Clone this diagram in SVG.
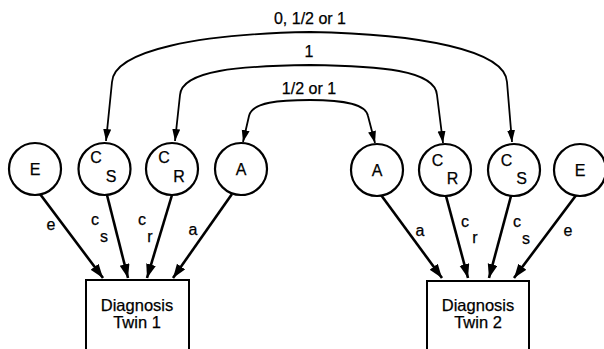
<svg xmlns="http://www.w3.org/2000/svg" width="604" height="349" viewBox="0 0 604 349">
<style>
text{font-family:"Liberation Sans",Arial,sans-serif;fill:#000;stroke:#000;stroke-width:0.25}
.node circle{fill:#fff;stroke:#000;stroke-width:2.2}
.node text{font-size:16px;text-anchor:middle}
.box rect{fill:#fff;stroke:#000;stroke-width:2}
.box text{font-size:16.5px;text-anchor:middle}
.edge{fill:none;stroke:#000;stroke-width:2.6}
.arc{fill:none;stroke:#000;stroke-width:1.8}
.lbl{font-size:16px;text-anchor:middle}
.albl{font-size:16px;text-anchor:middle}
</style>
<defs>
<marker id="ah" markerUnits="userSpaceOnUse" markerWidth="16" markerHeight="12" refX="14" refY="5" orient="auto">
<path d="M0,0 L14,5 L0,10 z" fill="#000"/>
</marker>
<marker id="sh" markerUnits="userSpaceOnUse" markerWidth="14" markerHeight="10" refX="12" refY="4" orient="auto-start-reverse">
<path d="M0,0 L12,4 L0,8 z" fill="#000"/>
</marker>
</defs>

<g id="connectors">
<path class="arc" d="M106,141 L112,82 C114,50 200,34 310,32 C420,34 505,50 507,82 L512,142" marker-start="url(#sh)" marker-end="url(#sh)"/>
<path class="arc" d="M175,141 L180,95 C182,70 240,66 310,65 C380,66 435,70 437,95 L443,143" marker-start="url(#sh)" marker-end="url(#sh)"/>
<path class="arc" d="M243,142 L249,116 C252,102 280,100 310,100 C345,100 366,104 368,116 L375,143" marker-start="url(#sh)" marker-end="url(#sh)"/>
<text class="albl" x="310" y="24">0, 1/2 or 1</text>
<text class="albl" x="309" y="57">1</text>
<text class="albl" x="309" y="94">1/2 or 1</text>

<line class="edge" x1="40" y1="194" x2="103" y2="278" marker-end="url(#ah)"/>
<line class="edge" x1="107" y1="195" x2="128" y2="278" marker-end="url(#ah)"/>
<line class="edge" x1="172" y1="195" x2="147" y2="278" marker-end="url(#ah)"/>
<line class="edge" x1="232" y1="194" x2="173" y2="278" marker-end="url(#ah)"/>
<line class="edge" x1="381" y1="195" x2="442" y2="278" marker-end="url(#ah)"/>
<line class="edge" x1="446" y1="196" x2="468" y2="278" marker-end="url(#ah)"/>
<line class="edge" x1="511" y1="196" x2="489" y2="278" marker-end="url(#ah)"/>
<line class="edge" x1="577" y1="194" x2="514" y2="278" marker-end="url(#ah)"/>

<text class="lbl" x="51" y="230">e</text>
<text class="lbl" x="95" y="225">c</text>
<text class="lbl" x="104" y="242">s</text>
<text class="lbl" x="142" y="225">c</text>
<text class="lbl" x="150" y="242">r</text>
<text class="lbl" x="193" y="235">a</text>
<text class="lbl" x="420" y="236">a</text>
<text class="lbl" x="465" y="227">c</text>
<text class="lbl" x="475" y="243">r</text>
<text class="lbl" x="517" y="227">c</text>
<text class="lbl" x="526" y="244">s</text>
<text class="lbl" x="568" y="236">e</text>
</g>

<g id="E1" class="node"><circle cx="35" cy="169" r="26"/><text x="35" y="175">E</text></g>
<g id="CS1" class="node"><circle cx="104.5" cy="169" r="26"/><text x="96" y="163">C</text><text x="111" y="182">S</text></g>
<g id="CR1" class="node"><circle cx="172" cy="169" r="26"/><text x="164" y="163">C</text><text x="179" y="182">R</text></g>
<g id="A1" class="node"><circle cx="241" cy="169" r="26"/><text x="241" y="175">A</text></g>
<g id="A2" class="node"><circle cx="377" cy="170" r="26"/><text x="377" y="176">A</text></g>
<g id="CR2" class="node"><circle cx="445" cy="170" r="26"/><text x="437.5" y="166">C</text><text x="452.5" y="184">R</text></g>
<g id="CS2" class="node"><circle cx="514" cy="170" r="26"/><text x="506.5" y="166">C</text><text x="521.5" y="184">S</text></g>
<g id="E2" class="node"><circle cx="580" cy="170" r="26"/><text x="580" y="176">E</text></g>

<g id="twin1" class="box"><rect x="86" y="280" width="103" height="76"/><text x="137" y="311">Diagnosis</text><text x="137" y="328">Twin 1</text></g>
<g id="twin2" class="box"><rect x="427" y="281" width="102" height="76"/><text x="478" y="311">Diagnosis</text><text x="478" y="328">Twin 2</text></g>
</svg>
